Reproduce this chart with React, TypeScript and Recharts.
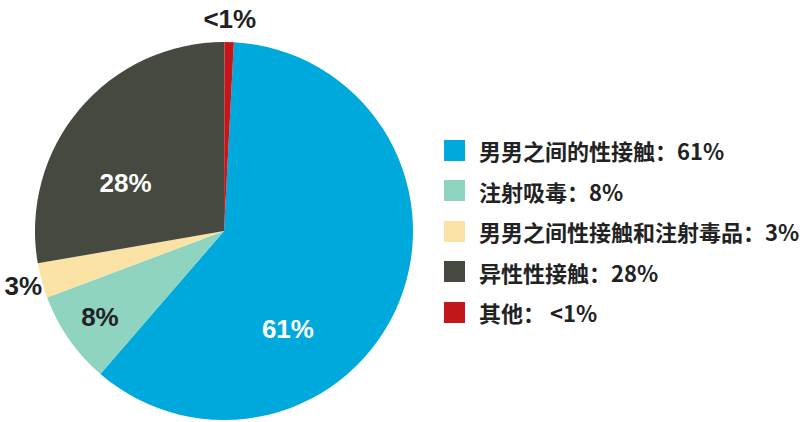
import { PieChart, Pie, Cell, Legend } from 'recharts';

// HIV transmission routes (share of cases, %)
const categories = ['男男之间的性接触', '注射吸毒', '男男之间性接触和注射毒品', '异性性接触', '其他'];
const values = [61, 8, 3, 28, 0.8];
const sliceLabels = ['61%', '8%', '3%', '28%', '<1%'];
const legendLabels = ['61%', '8%', '3%', '28%', ' <1%'];
const colors = ['#00A9DC', '#8FD4C1', '#FBE3A6', '#454940', '#C4171C'];

// label placement per slice: radius as share of outer radius, angle shift from slice middle
const labelPlacement = [
  { r: 0.62, shift: -35, fill: '#ffffff' },
  { r: 0.8, shift: 0, fill: '#222222' },
  { r: 1.1, shift: 0, fill: '#222222' },
  { r: 0.58, shift: 14, fill: '#ffffff' },
  { r: 1.12, shift: 0, fill: '#222222' },
];

const data = categories.map((name, i) => ({ name, value: values[i] }));

const RAD = Math.PI / 180;

const renderLabel = (props: any) => {
  const { cx, cy, midAngle, outerRadius, index } = props;
  const p = labelPlacement[index];
  const a = (midAngle + p.shift) * RAD;
  const x = cx + outerRadius * p.r * Math.cos(a);
  const y = cy - outerRadius * p.r * Math.sin(a);
  return (
    <text
      x={x}
      y={y}
      fill={p.fill}
      textAnchor="middle"
      dominantBaseline="central"
      fontSize={26}
      fontWeight="bold"
      fontFamily="'Liberation Sans', Arial, sans-serif"
    >
      {sliceLabels[index]}
    </text>
  );
};

const renderLegend = () => (
  <div style={{ fontFamily: "'Noto Sans CJK SC', sans-serif", fontWeight: 700, fontSize: 22, color: '#222' }}>
    {categories.map((name, i) => (
      <div key={name} style={{ display: 'flex', alignItems: 'center', height: 40.5 }}>
        <span style={{ width: 21, height: 21, background: colors[i], marginRight: 14, flexShrink: 0 }} />
        <span style={{ whiteSpace: 'nowrap' }}>
          {name}：{legendLabels[i]}
        </span>
      </div>
    ))}
  </div>
);

export default function App() {
  return (
    <div style={{ position: 'absolute', left: 0, top: 0, width: 800, height: 422, background: '#fff' }}>
      <PieChart width={800} height={422} margin={{ top: 0, right: 0, bottom: 0, left: 0 }}>
        <Pie
          data={data}
          dataKey="value"
          cx={224}
          cy={231}
          outerRadius={189}
          startAngle={87}
          endAngle={-273}
          stroke="none"
          labelLine={false}
          label={renderLabel}
          isAnimationActive={false}
        >
          {data.map((entry, index) => (
            <Cell key={`cell-${index}`} fill={colors[index]} />
          ))}
        </Pie>
        <Legend
          layout="vertical"
          content={renderLegend}
          wrapperStyle={{ left: 444, top: 130, width: 356 }}
        />
      </PieChart>
    </div>
  );
}
